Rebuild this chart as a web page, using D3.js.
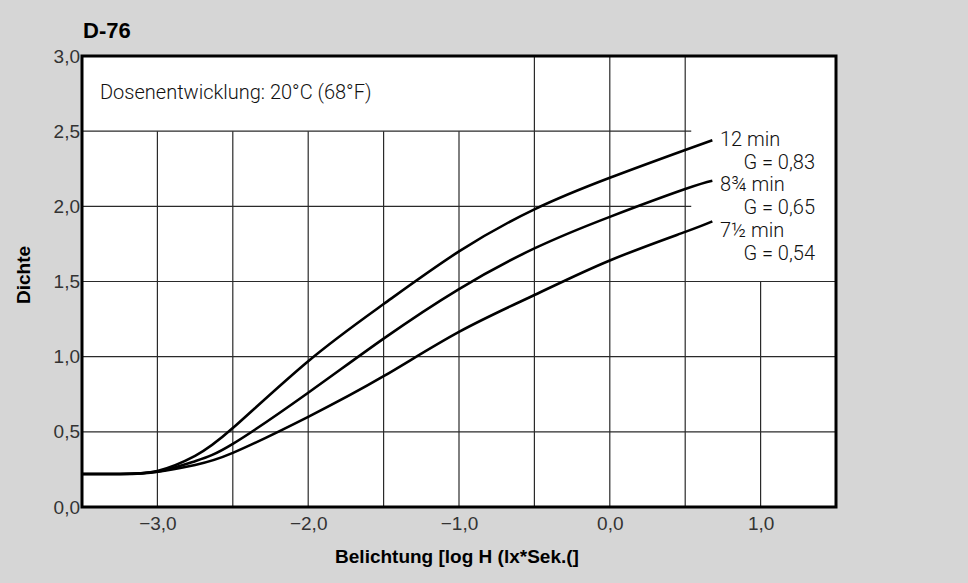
<!DOCTYPE html>
<html>
<head>
  <script src="https://d3js.org/d3.v7.min.js"></script>
  <style>
    body { margin: 0; background: #d6d6d6; }
    svg { font-family: Roboto, "Liberation Sans", sans-serif; }
    .tick text { font-size: 19px; font-weight: 300; fill: #333; }
    .grid line { stroke: #2a2a2a; stroke-width: 1.2; }
    .curve { fill: none; stroke: #000; stroke-width: 2.6; }
    .lbl { font-size: 20px; font-weight: 300; fill: #111; }
    .bold { font-family: "Liberation Sans", Arial, sans-serif; font-weight: bold; fill: #000; }
  </style>
</head>
<body>
<div id="chart"></div>
<script>
// exposure (log H) and density values
var logH      = [-3.5, -3.25, -3.0, -2.75, -2.5, -2.0, -1.5, -1.0, -0.5, 0.0, 0.5, 0.68];
var dens12    = [0.22, 0.22, 0.24, 0.34, 0.525, 0.97, 1.35, 1.70, 1.98, 2.19, 2.375, 2.44];
var dens8_75  = [0.22, 0.22, 0.235, 0.305, 0.42, 0.76, 1.12, 1.45, 1.72, 1.93, 2.115, 2.17];
var dens7_5   = [0.22, 0.22, 0.235, 0.28, 0.36, 0.60, 0.87, 1.165, 1.41, 1.64, 1.83, 1.90];

var xTicks = [-3, -2, -1, 0, 1];
var yTicks = [0, 0.5, 1, 1.5, 2, 2.5, 3];

// grid lines, with where each one stops (the text areas are kept clear)
var vGrid    = [-3, -2.5, -2, -1.5, -1, -0.5, 0, 0.5, 1];
var vGridTop = [2.5, 2.5, 2.5, 2.5, 2.5, 3, 3, 3, 1.5];
var hGrid      = [0.5, 1, 1.5, 2, 2.5];
var hGridRight = [1.5, 1.5, 1.5, 0.54, 0.54];

var curveLabels = [
  ["12 min", "G = 0,83"],
  ["8\u00BE min", "G = 0,65"],
  ["7\u00BD min", "G = 0,54"]
];

var width = 968, height = 583;
var mLeft = 82, mRight = 836, mTop = 56, mBottom = 507;

var x = d3.scaleLinear().domain([-3.5, 1.5]).range([mLeft, mRight]);
var y = d3.scaleLinear().domain([0, 3]).range([mBottom, mTop]);

var svg = d3.select("#chart").append("svg")
  .attr("width", width)
  .attr("height", height);

svg.append("rect")
  .attr("width", width).attr("height", height)
  .attr("fill", "#d6d6d6");

svg.append("rect")
  .attr("x", mLeft).attr("y", mTop)
  .attr("width", mRight - mLeft).attr("height", mBottom - mTop)
  .attr("fill", "#fff");

/* grid */
var grid = svg.append("g").attr("class", "grid");
grid.selectAll(".v").data(vGrid).enter().append("line")
  .attr("x1", d => x(d)).attr("x2", d => x(d))
  .attr("y1", y(0)).attr("y2", (d, i) => y(vGridTop[i]));
grid.selectAll(".h").data(hGrid).enter().append("line")
  .attr("y1", d => y(d)).attr("y2", d => y(d))
  .attr("x1", x(-3.5)).attr("x2", (d, i) => x(hGridRight[i]));

/* curves */
var line = d3.line()
  .x(d => x(d[0]))
  .y(d => y(d[1]))
  .curve(d3.curveNatural);

[dens12, dens8_75, dens7_5].forEach(function(s) {
  svg.append("path")
    .attr("class", "curve")
    .attr("d", line(logH.map((v, i) => [v, s[i]])));
});

/* frame */
svg.append("rect")
  .attr("x", mLeft).attr("y", mTop)
  .attr("width", mRight - mLeft).attr("height", mBottom - mTop)
  .attr("fill", "none")
  .attr("stroke", "#000")
  .attr("stroke-width", 3);

/* axes */
var fmt = d => d3.format(".1f")(d).replace(".", ",");

svg.append("g")
  .attr("transform", `translate(${mLeft - 1},0)`)
  .call(d3.axisLeft(y).tickValues(yTicks).tickSize(0).tickPadding(1).tickFormat(fmt))
  .call(g => g.select(".domain").remove());

svg.append("g")
  .attr("transform", `translate(0,${mBottom})`)
  .call(d3.axisBottom(x).tickValues(xTicks).tickSize(0).tickPadding(10).tickFormat(fmt))
  .call(g => g.select(".domain").remove());

/* texts */
svg.append("text")
  .attr("class", "bold")
  .attr("x", 83).attr("y", 38)
  .style("font-size", "22px")
  .text("D-76");

svg.append("text")
  .attr("class", "lbl")
  .attr("x", 100).attr("y", 99)
  .text("Dosenentwicklung: 20°C (68°F)");

svg.append("text")
  .attr("class", "bold")
  .attr("x", 457).attr("y", 563)
  .attr("text-anchor", "middle")
  .style("font-size", "19px")
  .text("Belichtung [log H (lx*Sek.(]");

svg.append("text")
  .attr("class", "bold")
  .attr("transform", "translate(30,275) rotate(-90)")
  .attr("text-anchor", "middle")
  .style("font-size", "19px")
  .text("Dichte");

var lblY = [146, 191, 237];
curveLabels.forEach(function(l, i) {
  svg.append("text")
    .attr("class", "lbl")
    .attr("x", 720).attr("y", lblY[i])
    .text(l[0]);
  svg.append("text")
    .attr("class", "lbl")
    .attr("x", 815).attr("y", lblY[i] + 23)
    .attr("text-anchor", "end")
    .text(l[1]);
});
</script>
</body>
</html>
